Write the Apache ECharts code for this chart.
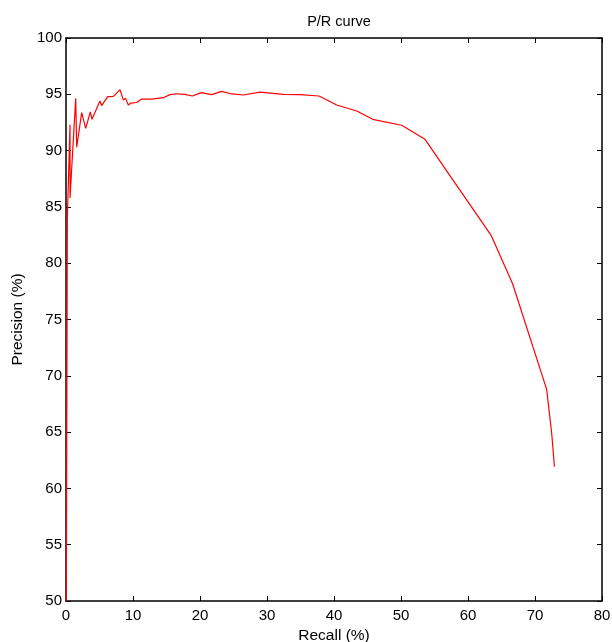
<!DOCTYPE html>
<html>
<head>
<meta charset="utf-8">
<script src="https://cdn.jsdelivr.net/npm/echarts@6/dist/echarts.min.js"></script>
<style>
  html, body { margin: 0; padding: 0; background: #fff; }
  #chart { width: 612px; height: 642px; }
</style>
</head>
<body>
<div id="chart"></div>
<script>
// Recall (%) values along the curve
const recall = [
  0.05, 0.2, 0.6, 0.6, 1.45, 1.6, 2.34, 2.94, 3.63, 3.88,
  5.07, 5.32, 6.22, 7.07, 8.06, 8.55, 8.9, 9.3, 9.7, 10.55,
  11.3, 12.78, 14.53, 15.52, 16.52, 17.76, 18.86, 20.2, 21.74, 23.23,
  24.73, 26.47, 28.96, 32.43, 34.93, 37.76, 40.4, 43.4, 45.77, 50.1,
  53.58, 63.5, 66.67, 71.74, 72.49, 72.9
];
// Precision (%) values matching each recall point
const precision = [
  50.0, 84.0, 92.3, 85.8, 94.64, 90.3, 93.37, 91.98, 93.43, 92.78,
  94.4, 94.0, 94.8, 94.82, 95.42, 94.5, 94.64, 94.05, 94.22, 94.27,
  94.58, 94.57, 94.7, 94.97, 95.05, 95.0, 94.85, 95.15, 94.97, 95.26,
  95.03, 94.94, 95.2, 95.0, 94.97, 94.85, 94.05, 93.52, 92.78, 92.25,
  91.0, 82.42, 78.15, 68.8, 64.9, 61.93
];
const xTicks = [0, 10, 20, 30, 40, 50, 60, 70, 80];
const yTicks = [50, 55, 60, 65, 70, 75, 80, 85, 90, 95, 100];

const points = recall.map((r, i) => [r, precision[i]]);
const font = 'Liberation Sans, Arial, sans-serif';

const axisLine = { show: true, onZero: false, lineStyle: { color: '#000', width: 1.5 } };
const tick = { show: true, inside: true, length: 5, lineStyle: { color: '#000', width: 1 } };

const chart = echarts.init(document.getElementById('chart'), null, { renderer: 'canvas' });
chart.setOption({
  animation: false,
  backgroundColor: '#fff',
  title: {
    text: 'P/R curve',
    left: 334, top: 9, textAlign: 'center',
    textStyle: { fontFamily: font, fontSize: 14.5, fontWeight: 'normal', color: '#000' }
  },
  grid: { left: 66, right: 10, top: 38, bottom: 41, containLabel: false, outerBoundsMode: 'none' },
  xAxis: [
    {
      type: 'value', min: xTicks[0], max: xTicks[xTicks.length - 1], interval: 10,
      name: 'Recall (%)', nameLocation: 'middle', nameGap: 25,
      nameTextStyle: { fontFamily: font, fontSize: 15.5, color: '#000' },
      axisLine, axisTick: tick,
      axisLabel: { margin: 7, fontFamily: font, fontSize: 15, color: '#000' },
      splitLine: { show: false }
    },
    {
      type: 'value', position: 'top', min: xTicks[0], max: xTicks[xTicks.length - 1], interval: 10,
      axisLine, axisTick: tick, axisLabel: { show: false }, splitLine: { show: false }
    }
  ],
  yAxis: [
    {
      type: 'value', min: yTicks[0], max: yTicks[yTicks.length - 1], interval: 5,
      name: 'Precision (%)', nameLocation: 'middle', nameGap: 38,
      nameTextStyle: { fontFamily: font, fontSize: 15.5, color: '#000' },
      axisLine, axisTick: tick,
      axisLabel: { margin: 4, fontFamily: font, fontSize: 15, color: '#000' },
      splitLine: { show: false }
    },
    {
      type: 'value', position: 'right', min: yTicks[0], max: yTicks[yTicks.length - 1], interval: 5,
      axisLine, axisTick: tick, axisLabel: { show: false }, splitLine: { show: false }
    }
  ],
  series: [{
    type: 'line',
    data: points,
    showSymbol: false,
    symbol: 'none',
    lineStyle: { color: '#ff0000', width: 1.2 },
    clip: true
  }]
});
</script>
</body>
</html>
